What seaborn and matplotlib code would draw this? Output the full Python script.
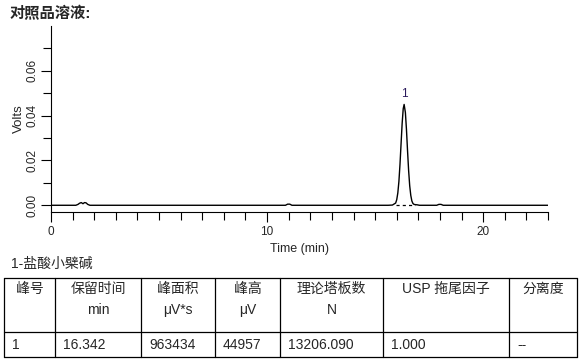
import pandas as pd
import matplotlib
matplotlib.use("Agg")
import matplotlib.pyplot as plt
from matplotlib.ticker import MultipleLocator
import seaborn as sns

title = "对照品溶液:"
compound = "1-盐酸小檗碱"

# chromatogram trace (time in min, signal in V)
time_min = [0.0, 1.15, 1.25, 1.32, 1.4, 1.48, 1.55, 1.62, 1.7, 1.8, 10.85, 10.95, 11.05, 11.15,
            15.6, 15.8, 15.95, 16.0, 16.05, 16.1, 16.15, 16.2, 16.25, 16.3, 16.342, 16.4,
            16.45, 16.5, 16.55, 16.6, 16.65, 16.7, 16.75, 16.8, 16.85, 16.95, 17.05,
            17.85, 17.95, 18.05, 18.15, 23.0]
volts = [0.0, 0.0, 0.0004, 0.0009, 0.0012, 0.0007, 0.0012, 0.0011, 0.0004, 0.0, 0.0, 0.0005, 0.0005, 0.0,
         0.0, 0.0001, 0.0010, 0.0025, 0.0055, 0.0106, 0.0182, 0.0274, 0.0365, 0.0431, 0.0450, 0.0414,
         0.0338, 0.0243, 0.0155, 0.0087, 0.0044, 0.0019, 0.0008, 0.0004, 0.0003, 0.0002, 0.0,
         0.0, 0.0004, 0.0004, 0.0, 0.0]

# integration baseline under peak 1
base_time = [15.95, 16.85]
base_volts = [0.0, 0.0]

peak_ids = ["1"]
ret_time = [16.342]
peak_area = [963434]
peak_height_uv = [44957]
plates = [13206.090]
tailing = [1.000]
resolution = ["--"]

headers = ["峰号", "保留时间", "峰面积", "峰高", "理论塔板数", "USP 拖尾因子", "分离度"]
units = ["", "min", "μV*s", "μV", "N", "", ""]

sns.set_style("ticks")
plt.rcParams["font.family"] = ["Liberation Sans", "Noto Sans CJK SC", "DejaVu Sans"]

fig = plt.figure(figsize=(5.8, 3.6), dpi=100)

# page overlay in pixel coordinates for title and table
page = fig.add_axes([0, 0, 1, 1])
page.set_xlim(0, 580)
page.set_ylim(360, 0)
page.axis("off")

ax = fig.add_axes([51 / 580, 1 - 212 / 360, 497 / 580, 186 / 360])
df = pd.DataFrame({"t": time_min, "v": volts})
sns.lineplot(data=df, x="t", y="v", color="black", lw=1.0, estimator=None, ax=ax)
sns.lineplot(x=base_time, y=base_volts, color="black", lw=0.9, linestyle=(0, (2.5, 2.5)),
             estimator=None, ax=ax)
for pid, rt, h in zip(peak_ids, ret_time, peak_height_uv):
    ax.text(rt, h / 1e6 + 0.0018, pid, ha="center", va="bottom", fontsize=8.5, color="#2b1a5c")

ax.set_xlim(0, 23)
ax.set_ylim(-0.003, 0.08)
ax.xaxis.set_major_locator(MultipleLocator(10))
ax.xaxis.set_minor_locator(MultipleLocator(1))
ax.set_yticks([0.0, 0.02, 0.04, 0.06])
ax.set_yticks([0.01, 0.03, 0.05, 0.07], minor=True)
ax.set_yticklabels(["0.00", "0.02", "0.04", "0.06"], rotation=90, va="center")
ax.tick_params(which="major", length=7, width=0.8, color="black", labelsize=8.5, pad=3)
ax.tick_params(axis="y", which="major", pad=2)
ax.tick_params(which="minor", length=6, width=0.8, color="black")
ax.set_xlabel("Time (min)", fontsize=9, labelpad=4)
ax.set_ylabel("Volts", fontsize=9.5, labelpad=1)
for s in ["top", "right"]:
    ax.spines[s].set_visible(False)
for s in ["left", "bottom"]:
    ax.spines[s].set_linewidth(0.8)
    ax.spines[s].set_color("black")
ax.set_facecolor("none")

page.text(10, 13, title, fontsize=11, fontweight="bold", ha="left", va="center")
page.text(11, 264, compound, fontsize=10, ha="left", va="center")

# table
col_edges = [4, 55, 141, 215, 280, 383, 509, 577]
row_edges = [278, 332, 357]
for y in row_edges:
    page.plot([col_edges[0], col_edges[-1]], [y, y], color="black", lw=0.9)
for x in col_edges:
    page.plot([x, x], [row_edges[0], row_edges[-1]], color="black", lw=0.9)

row = [peak_ids[0], f"{ret_time[0]:.3f}", f"{peak_area[0]}", f"{peak_height_uv[0]}",
       f"{plates[0]:.3f}", f"{tailing[0]:.3f}", resolution[0]]
for i in range(len(headers)):
    cx = (col_edges[i] + col_edges[i + 1]) / 2
    page.text(cx, 289, headers[i], fontsize=10, ha="center", va="center")
    if units[i]:
        page.text(cx, 310, units[i], fontsize=10, ha="center", va="center")
    page.text(col_edges[i] + 8, 345, row[i], fontsize=10, ha="left", va="center")

fig.savefig("out.png", dpi=100, facecolor="white")
